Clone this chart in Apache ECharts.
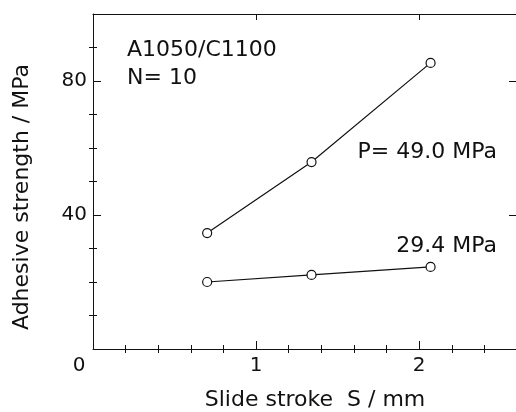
<!DOCTYPE html>
<html>
<head>
<meta charset="utf-8">
<script src="https://cdn.jsdelivr.net/npm/echarts@6/dist/echarts.min.js"></script>
<style>
html,body{margin:0;padding:0;background:#fff;}
#chart{width:516px;height:412px;}
</style>
</head>
<body>
<div id="chart"></div>
<script>
// ---- data ----
const strokes = [0.70, 1.34, 2.07];          // slide stroke S / mm
const strength49 = [34.6, 55.8, 85.4];        // P = 49.0 MPa
const strength294 = [20.0, 22.1, 24.5];       // P = 29.4 MPa
const xMajorTicks = [0, 1, 2];
const xMinorTicks = [0.2, 0.4, 0.6, 0.8, 1.2, 1.4, 1.6, 1.8, 2.2, 2.4];
const xTickLabels = [0, 1, 2];
const yMajorTicks = [40, 80];
const yMinorTicks = [10, 20, 30, 50, 60, 70, 90];
const yTickLabels = [40, 80];
const xTitle = 'Slide stroke  S / mm';
const yTitle = 'Adhesive strength / MPa';
const notes = ['A1050/C1100', 'N= 10', 'P= 49.0 MPa', '29.4 MPa'];

const FONT = 'DejaVu Sans';
const BLACK = '#111';

function pairs(xs, ys) { return xs.map((x, i) => [x, ys[i]]); }

function xAx(pos, ticks, len, opts) {
  return Object.assign({
    type: 'value', position: pos, min: 0, max: 2.6,
    axisLine: { show: false, lineStyle: { color: BLACK, width: 1 } },
    axisTick: { show: true, inside: true, length: len, customValues: ticks, lineStyle: { color: BLACK, width: 1 } },
    axisLabel: { show: false },
    splitLine: { show: false }
  }, opts || {});
}
function yAx(pos, ticks, len, opts) {
  return Object.assign({
    type: 'value', position: pos, min: 0, max: 100,
    axisLine: { show: false, lineStyle: { color: BLACK, width: 1 } },
    axisTick: { show: true, inside: true, length: len, customValues: ticks, lineStyle: { color: BLACK, width: 1 } },
    axisLabel: { show: false },
    splitLine: { show: false }
  }, opts || {});
}

const chart = echarts.init(document.getElementById('chart'), null, { renderer: 'canvas' });

const option = {
  backgroundColor: '#fff',
  animation: false,
  grid: { left: 93, top: 14, width: 424, height: 335, containLabel: false, outerBoundsMode: 'none' },
  xAxis: [
    xAx('bottom', xMajorTicks, 8, {
      axisLine: { show: true, onZero: false, lineStyle: { color: BLACK, width: 1 } },
      axisLabel: {
        show: true, customValues: xTickLabels, margin: 7,
        fontFamily: FONT, fontSize: 20, color: BLACK,
        formatter: v => v === 0 ? '{z|0}' : String(v),
        rich: { z: { padding: [0, 28, 0, 0], fontFamily: FONT, fontSize: 20, color: BLACK } }
      },
      name: xTitle, nameLocation: 'middle', nameGap: 40,
      nameTextStyle: { fontFamily: FONT, fontSize: 22, color: BLACK, padding: [0, 0, 0, 20] }
    }),
    xAx('bottom', xMinorTicks, 4),
    xAx('top', xMajorTicks, 6, { axisLine: { show: true, onZero: false, lineStyle: { color: BLACK, width: 1 } } }),
    xAx('top', xMinorTicks, 4)
  ],
  yAxis: [
    yAx('left', yMajorTicks, 8, {
      axisLine: { show: true, onZero: false, lineStyle: { color: BLACK, width: 1 } },
      axisLabel: { show: true, customValues: yTickLabels, margin: 6, fontFamily: FONT, fontSize: 20, color: BLACK },
      name: yTitle, nameLocation: 'middle', nameGap: 60,
      nameTextStyle: { fontFamily: FONT, fontSize: 22, color: BLACK, padding: [0, 31, 0, 0] }
    }),
    yAx('left', yMinorTicks, 4),
    yAx('right', yMajorTicks, 8, { axisLine: { show: true, onZero: false, lineStyle: { color: BLACK, width: 1 } } }),
    yAx('right', yMinorTicks, 4)
  ],
  series: [
    {
      type: 'line', xAxisIndex: 0, yAxisIndex: 0,
      data: pairs(strokes, strength49),
      symbol: 'circle', symbolSize: 9,
      lineStyle: { color: BLACK, width: 1.2 },
      itemStyle: { color: '#fff', borderColor: BLACK, borderWidth: 1.2 },
      z: 3
    },
    {
      type: 'line', xAxisIndex: 0, yAxisIndex: 0,
      data: pairs(strokes, strength294),
      symbol: 'circle', symbolSize: 9,
      lineStyle: { color: BLACK, width: 1.2 },
      itemStyle: { color: '#fff', borderColor: BLACK, borderWidth: 1.2 },
      z: 3
    }
  ],
  graphic: [
    { type: 'text', x: 127, y: 50, style: { text: notes[0], font: '22px "DejaVu Sans"', fill: BLACK, textAlign: 'left', textVerticalAlign: 'middle' } },
    { type: 'text', x: 127, y: 78, style: { text: notes[1], font: '22px "DejaVu Sans"', fill: BLACK, textAlign: 'left', textVerticalAlign: 'middle' } },
    { type: 'text', x: 497, y: 152, style: { text: notes[2], font: '22px "DejaVu Sans"', fill: BLACK, textAlign: 'right', textVerticalAlign: 'middle' } },
    { type: 'text', x: 497, y: 246, style: { text: notes[3], font: '22px "DejaVu Sans"', fill: BLACK, textAlign: 'right', textVerticalAlign: 'middle' } }
  ]
};
chart.setOption(option);
</script>
</body>
</html>
